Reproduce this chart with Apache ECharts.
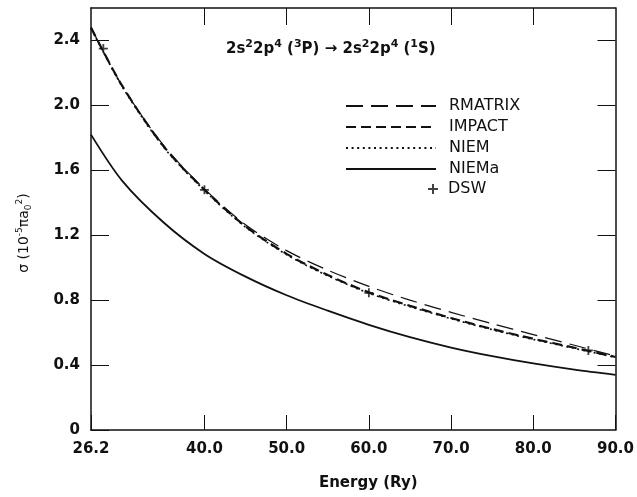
<!DOCTYPE html>
<html><head><meta charset="utf-8">
<script src="https://cdn.jsdelivr.net/npm/echarts@6/dist/echarts.min.js"></script>
<style>html,body{margin:0;padding:0;background:#fff}#c{width:637px;height:497px}</style>
</head><body><div id="c"></div>
<script>
const energy = [26.2, 30, 35, 40, 45, 50, 55, 60, 65, 70, 75, 80, 85, 90];
const rmatrix = [2.48, 2.12, 1.755, 1.485, 1.265, 1.105, 0.985, 0.885, 0.80, 0.725, 0.655, 0.588, 0.522, 0.455];
const impact = [2.48, 2.12, 1.75, 1.48, 1.255, 1.085, 0.955, 0.848, 0.765, 0.69, 0.622, 0.562, 0.507, 0.45];
const niem = [2.475, 2.115, 1.745, 1.475, 1.25, 1.08, 0.95, 0.843, 0.76, 0.686, 0.618, 0.558, 0.503, 0.447];
const niema = [1.82, 1.535, 1.28, 1.085, 0.945, 0.83, 0.735, 0.648, 0.572, 0.508, 0.455, 0.41, 0.372, 0.34];
const dswEnergy = [27.7, 40.0, 60.0, 86.7];
const dswValue = [2.35, 1.48, 0.845, 0.49];
const xTicks = [26.2, 40, 50, 60, 70, 80, 90];
const yTicks = [0, 0.4, 0.8, 1.2, 1.6, 2.0, 2.4];

const FF = 'DejaVu Sans';
const INK = '#111';
const pairs = (xs, ys) => xs.map((x, i) => [x, ys[i]]);

const chart = echarts.init(document.getElementById('c'), null, {renderer: 'canvas'});
const axisLine = {show: true, onZero: false, lineStyle: {color: INK, width: 1.5}};
chart.setOption({
  animation: false,
  backgroundColor: '#fff',
  grid: {left: 91, right: 17, top: 8, bottom: 67, containLabel: false},
  title: {
    text: '2s{sup|2}2p{sup|4} ({sup|3}P) → 2s{sup|2}2p{sup|4} ({sup|1}S)',
    left: 221, top: 34,
    textStyle: {
      fontFamily: FF, fontWeight: 'bold', fontSize: 15, color: INK, lineHeight: 20,
      rich: {sup: {fontFamily: FF, fontWeight: 'bold', fontSize: 11, lineHeight: 11, verticalAlign: 'top', color: INK}}
    }
  },
  legend: [
    {
      data: ['RMATRIX', 'IMPACT', 'NIEM', 'NIEMa'],
      orient: 'vertical', left: 340, top: 93,
      itemWidth: 90, itemHeight: 16, itemGap: 5,
      itemStyle: {opacity: 0},
      textStyle: {fontFamily: FF, fontSize: 16, color: INK, lineHeight: 16, padding: [0, 0, 0, 8]}
    },
    {
      data: ['DSW'],
      orient: 'vertical', left: 423, top: 176,
      itemWidth: 10, itemHeight: 10,
      textStyle: {fontFamily: FF, fontSize: 16, color: INK, lineHeight: 16, padding: [0, 0, 0, 5]}
    }
  ],
  xAxis: [
    {
      type: 'value', min: 26.2, max: 90, position: 'bottom',
      axisLine: axisLine,
      axisTick: {show: true, inside: true, length: 15, customValues: xTicks, lineStyle: {color: INK, width: 1}},
      axisLabel: {customValues: xTicks, formatter: v => v.toFixed(1), fontFamily: FF, fontWeight: 'bold', fontSize: 15, color: INK, margin: 12},
      splitLine: {show: false},
      name: 'Energy (Ry)', nameLocation: 'middle', nameGap: 46,
      nameTextStyle: {fontFamily: FF, fontWeight: 'bold', fontSize: 15, color: INK, padding: [0, 0, 0, 30]}
    },
    {
      type: 'value', min: 26.2, max: 90, position: 'top',
      axisLine: axisLine,
      axisTick: {show: true, inside: true, length: 17, customValues: [40, 50, 60, 70, 80], lineStyle: {color: INK, width: 1}},
      axisLabel: {show: false},
      splitLine: {show: false}
    }
  ],
  yAxis: [
    {
      type: 'value', min: 0, max: 2.6, position: 'left',
      axisLine: axisLine,
      axisTick: {show: true, inside: true, length: 18, customValues: yTicks, lineStyle: {color: INK, width: 1}},
      axisLabel: {customValues: yTicks, formatter: v => (v === 0 ? '0' : v.toFixed(1)), fontFamily: FF, fontWeight: 'bold', fontSize: 15, color: INK, margin: 11},
      splitLine: {show: false},
      name: 'σ (10{sup|-5}πa{sub|0}{sup|2})', nameLocation: 'middle', nameRotate: 90, nameGap: 58,
      nameTextStyle: {
        fontFamily: FF, fontSize: 14, color: INK, lineHeight: 18, padding: [0, 28, 0, 0],
        rich: {
          sup: {fontFamily: FF, fontSize: 9, lineHeight: 9, verticalAlign: 'top', color: INK},
          sub: {fontFamily: FF, fontSize: 9, lineHeight: 9, verticalAlign: 'bottom', color: INK}
        }
      }
    },
    {
      type: 'value', min: 0, max: 2.6, position: 'right',
      axisLine: axisLine,
      axisTick: {show: true, inside: true, length: 18, customValues: [0.4, 0.8, 1.2, 1.6, 2.0, 2.4], lineStyle: {color: INK, width: 1}},
      axisLabel: {show: false},
      splitLine: {show: false}
    }
  ],
  series: [
    {name: 'NIEMa', type: 'line', data: pairs(energy, niema), smooth: 0.3, symbol: 'none', showSymbol: false,
     lineStyle: {color: INK, width: 1.8, type: 'solid'}, itemStyle: {color: INK}, z: 2},
    {name: 'RMATRIX', type: 'line', data: pairs(energy, rmatrix), smooth: 0.3, symbol: 'none', showSymbol: false,
     lineStyle: {color: INK, width: 1.2, type: [17, 8]}, itemStyle: {color: INK}, z: 3},
    {name: 'IMPACT', type: 'line', data: pairs(energy, impact), smooth: 0.3, symbol: 'none', showSymbol: false,
     lineStyle: {color: INK, width: 2.2, type: [10, 5]}, itemStyle: {color: INK}, z: 4},
    {name: 'NIEM', type: 'line', data: pairs(energy, niem), smooth: 0.3, symbol: 'none', showSymbol: false,
     lineStyle: {color: INK, width: 1.6, type: [2, 3.6]}, itemStyle: {color: INK}, z: 5},
    {name: 'DSW', type: 'scatter', data: pairs(dswEnergy, dswValue),
     symbol: 'path://M4,0H6V4H10V6H6V10H4V6H0V4H4Z', symbolSize: 9,
     itemStyle: {color: INK}, z: 6}
  ]
});
</script>
</body></html>
